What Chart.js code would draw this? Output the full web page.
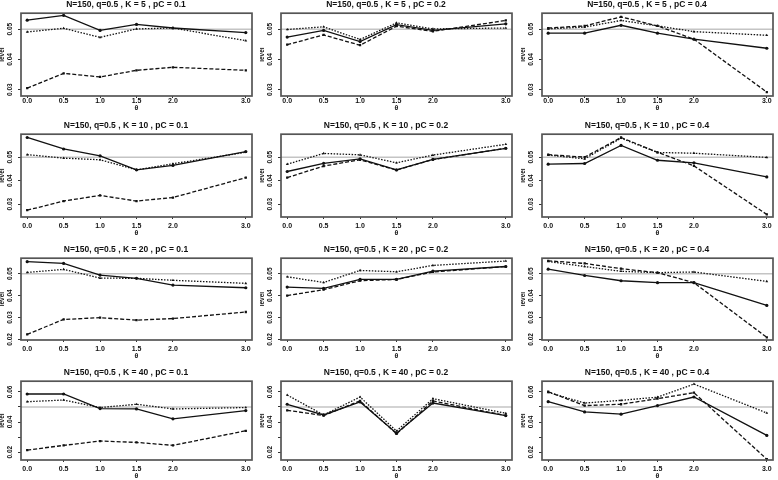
<!DOCTYPE html>
<html>
<head>
<meta charset="utf-8">
<script src="https://cdn.jsdelivr.net/npm/chart.js@4.4.1/dist/chart.umd.min.js"></script>
<style>
  html, body { margin: 0; padding: 0; background: #fff; }
  #wrap { position: relative; width: 778px; height: 480px; overflow: hidden; }
  #wrap canvas { position: absolute; }
</style>
</head>
<body>
<div id="wrap"></div>
<script>
// x values (theta) and panel parameters
const theta = [0, 0.5, 1.0, 1.5, 2.0, 3.0];
const kValues = [5, 10, 20, 40];
const pcValues = [0.1, 0.2, 0.4];
const refLevel = 0.05;

// y ticks per row (K), and which ones carry a label
const yTicks = [
  [0.03, 0.04, 0.05],
  [0.03, 0.04, 0.05],
  [0.02, 0.03, 0.04, 0.05],
  [0.02, 0.03, 0.04, 0.05, 0.06]
];
const yLabelled = [
  [0.03, 0.04, 0.05],
  [0.03, 0.04, 0.05],
  [0.02, 0.03, 0.04, 0.05],
  [0.02, 0.04, 0.06]
];
const yMin = [0.0279, 0.0245, 0.0197, 0.0148];
const yMax = [0.0553, 0.0598, 0.0571, 0.0671];

// level values, one row per panel (K=5 pC .1/.2/.4, K=10 ..., K=20 ..., K=40 ...)
const solid = [
  [0.0530, 0.0546, 0.0496, 0.0516, 0.0504, 0.0489],
  [0.0474, 0.0496, 0.0459, 0.0515, 0.0496, 0.0518],
  [0.0487, 0.0487, 0.0513, 0.0487, 0.0467, 0.0437],
  [0.0584, 0.0535, 0.0506, 0.0446, 0.0465, 0.0524],
  [0.0439, 0.0474, 0.0493, 0.0446, 0.0491, 0.0538],
  [0.0470, 0.0473, 0.0550, 0.0487, 0.0476, 0.0416],
  [0.0555, 0.0547, 0.0494, 0.0479, 0.0448, 0.0436],
  [0.0439, 0.0433, 0.0474, 0.0474, 0.0512, 0.0533],
  [0.0521, 0.0492, 0.0468, 0.0459, 0.0459, 0.0355],
  [0.0586, 0.0586, 0.0489, 0.0487, 0.0421, 0.0476],
  [0.0518, 0.0447, 0.0533, 0.0326, 0.0526, 0.0443],
  [0.0535, 0.0467, 0.0452, 0.0509, 0.0566, 0.0311]
];
const dashed = [
  [0.0305, 0.0354, 0.0342, 0.0364, 0.0374, 0.0364],
  [0.0449, 0.0481, 0.0447, 0.0510, 0.0493, 0.0529],
  [0.0504, 0.0511, 0.0541, 0.0511, 0.0467, 0.0292],
  [0.0274, 0.0313, 0.0337, 0.0313, 0.0328, 0.0413],
  [0.0413, 0.0462, 0.0489, 0.0445, 0.0490, 0.0538],
  [0.0511, 0.0500, 0.0584, 0.0521, 0.0463, 0.0256],
  [0.0223, 0.0291, 0.0299, 0.0288, 0.0295, 0.0325],
  [0.0400, 0.0427, 0.0468, 0.0474, 0.0508, 0.0533],
  [0.0559, 0.0547, 0.0523, 0.0505, 0.0459, 0.0209],
  [0.0214, 0.0245, 0.0274, 0.0265, 0.0245, 0.0342],
  [0.0478, 0.0443, 0.0540, 0.0322, 0.0540, 0.0443],
  [0.0601, 0.0509, 0.0518, 0.0555, 0.0595, 0.0153]
];
const dotted = [
  [0.0491, 0.0503, 0.0473, 0.0501, 0.0504, 0.0462],
  [0.0499, 0.0508, 0.0466, 0.0521, 0.0501, 0.0504],
  [0.0501, 0.0507, 0.0529, 0.0511, 0.0492, 0.0480],
  [0.0511, 0.0496, 0.0489, 0.0446, 0.0472, 0.0521],
  [0.0470, 0.0516, 0.0510, 0.0476, 0.0509, 0.0555],
  [0.0509, 0.0493, 0.0581, 0.0520, 0.0517, 0.0499],
  [0.0506, 0.0520, 0.0480, 0.0479, 0.0470, 0.0456],
  [0.0486, 0.0460, 0.0515, 0.0509, 0.0538, 0.0558],
  [0.0556, 0.0533, 0.0511, 0.0505, 0.0508, 0.0465],
  [0.0535, 0.0546, 0.0496, 0.0518, 0.0487, 0.0496],
  [0.0579, 0.0447, 0.0566, 0.0340, 0.0555, 0.0458],
  [0.0597, 0.0526, 0.0544, 0.0565, 0.0652, 0.0460]
];

// panel placement
const colLeft = [0, 260, 521];
const rowTop = [0, 121, 245, 368];
const rowHeight = [112, 116, 115, 112];
const xAxisHeight = [16, 20, 20, 20];
const xTickPad = [-1, 3, 3, 3];
const cellWidth = 257;

const FONT = '"Liberation Sans", Arial, sans-serif';
const INK = '#111';

// grey reference line at 0.05 and the box round the plot
const rPlot = {
  id: 'rPlot',
  beforeDatasetsDraw(chart) {
    const { ctx, chartArea: a, scales } = chart;
    const py = scales.y.getPixelForValue(refLevel);
    ctx.save();
    ctx.strokeStyle = '#c4c4c4';
    ctx.lineWidth = 1.5;
    ctx.beginPath();
    ctx.moveTo(a.left, py);
    ctx.lineTo(a.right, py);
    ctx.stroke();
    ctx.restore();
  },
  afterDraw(chart) {
    const { ctx, chartArea: a } = chart;
    ctx.save();
    ctx.strokeStyle = '#555';
    ctx.lineWidth = 1.7;
    ctx.strokeRect(a.left, a.top, a.right - a.left, a.bottom - a.top);
    ctx.restore();
  }
};

function serie(vals, dash, style) {
  return {
    data: theta.map((t, i) => ({ x: t, y: vals[i] })),
    borderColor: INK,
    backgroundColor: INK,
    borderWidth: 1.3,
    borderDash: dash,
    tension: 0,
    pointRadius: 1.6,
    pointStyle: style,
    pointBorderWidth: 0,
    pointBackgroundColor: INK
  };
}

const wrap = document.getElementById('wrap');

kValues.forEach((k, r) => {
  pcValues.forEach((pc, c) => {
    const idx = r * 3 + c;
    const cv = document.createElement('canvas');
    cv.width = cellWidth;
    cv.height = rowHeight[r];
    cv.style.left = colLeft[c] + 'px';
    cv.style.top = rowTop[r] + 'px';
    wrap.appendChild(cv);

    new Chart(cv.getContext('2d'), {
      type: 'line',
      data: {
        datasets: [
          serie(solid[idx], [], 'circle'),
          serie(dashed[idx], [4, 2], 'rect'),
          serie(dotted[idx], [1.5, 1.5], 'triangle')
        ]
      },
      plugins: [rPlot],
      options: {
        responsive: false,
        animation: false,
        layout: { padding: { left: 0, right: 5, top: 0, bottom: 0 } },
        plugins: {
          legend: { display: false },
          tooltip: { enabled: false },
          title: {
            display: true,
            text: 'N=150, q=0.5 , K = ' + k + ' , pC = ' + pc,
            color: INK,
            font: { family: FONT, size: 8.5, weight: 'bold', lineHeight: 1.2 },
            padding: { top: 0, bottom: 3 }
          }
        },
        scales: {
          x: {
            type: 'linear',
            min: -0.085,
            max: 3.085,
            afterBuildTicks: s => { s.ticks = theta.map(v => ({ value: v })); },
            afterFit: s => { s.height = xAxisHeight[r]; },
            ticks: {
              autoSkip: false,
              minRotation: 0,
              maxRotation: 0,
              padding: xTickPad[r],
              color: INK,
              font: { family: FONT, size: 7, weight: 'bold' },
              callback: v => v.toFixed(1)
            },
            grid: { drawOnChartArea: false, tickLength: 2, color: '#333' },
            border: { display: false },
            title: {
              display: true,
              text: 'θ',
              color: INK,
              font: { family: FONT, size: 7, weight: 'bold', lineHeight: 1.2 },
              padding: { top: 0, bottom: 0 }
            }
          },
          y: {
            type: 'linear',
            min: yMin[r],
            max: yMax[r],
            afterBuildTicks: s => { s.ticks = yTicks[r].map(v => ({ value: v })); },
            afterFit: s => { s.width = 21; },
            ticks: {
              autoSkip: false,
              minRotation: 90,
              maxRotation: 90,
              crossAlign: 'center',
              padding: 1,
              color: INK,
              font: { family: FONT, size: 6.5, weight: 'bold' },
              callback: v => yLabelled[r].some(t => Math.abs(t - v) < 1e-6) ? v.toFixed(2) : ''
            },
            grid: { drawOnChartArea: false, tickLength: 3, color: '#333' },
            border: { display: false },
            title: {
              display: true,
              text: 'level',
              color: INK,
              font: { family: FONT, size: 6.5, weight: 'bold', lineHeight: 1.2 },
              padding: { top: -2, bottom: 0 }
            }
          }
        }
      }
    });
  });
});
</script>
</body>
</html>
